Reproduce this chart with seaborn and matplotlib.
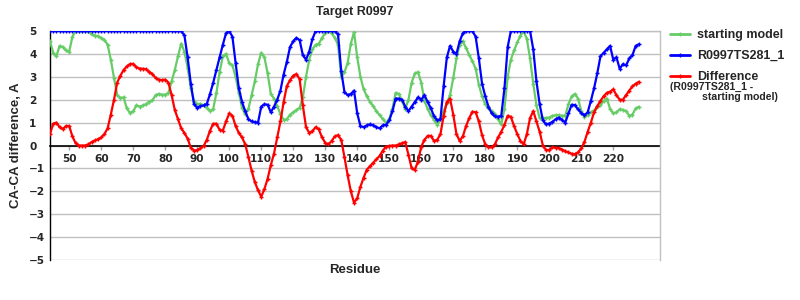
import matplotlib
matplotlib.use("Agg")
import matplotlib.pyplot as plt
import numpy as np
import pandas as pd
import seaborn as sns
from matplotlib.lines import Line2D

# ---------------- data ----------------
residues = list(range(44, 229))

starting_model = [
    4.55, 4.05, 3.9, 4.35, 4.3, 4.15, 4.1, 4.75, 5.0, 5.0,
    5.0, 5.0, 5.0, 4.85, 4.8, 4.77, 4.7, 4.62, 4.4, 3.75,
    2.95, 2.2, 2.08, 2.1, 1.62, 1.42, 1.5, 1.75, 1.7, 1.75,
    1.8, 1.92, 1.97, 2.2, 2.25, 2.22, 2.22, 2.3, 2.8, 3.3,
    3.9, 4.45, 4.1, 3.4, 2.5, 1.95, 1.8, 1.82, 1.75, 1.65,
    1.5, 1.6, 2.3, 3.2, 3.9, 4.0, 3.6, 3.5, 3.0, 2.3,
    1.65, 1.38, 1.6, 2.2, 2.8, 3.55, 4.05, 3.85, 3.15, 2.25,
    2.05, 1.72, 1.38, 1.12, 1.15, 1.35, 1.45, 1.55, 1.65, 2.1,
    3.0, 3.75, 4.2, 4.4, 4.45, 4.7, 4.92, 5.0, 4.9, 4.7,
    4.4, 3.0, 3.2, 3.6, 4.45, 4.95, 3.85, 3.0, 2.45, 2.15,
    1.9, 1.72, 1.5, 1.32, 1.15, 1.0, 1.15, 1.6, 2.3, 2.25,
    1.95, 1.6, 2.0, 2.75, 3.15, 3.2, 2.75, 1.95, 1.6, 1.32,
    1.12, 0.9, 1.15, 1.5, 1.85, 2.2, 2.95, 3.8, 4.4, 4.55,
    4.25, 3.95, 3.68, 3.35, 2.65, 2.15, 1.8, 1.65, 1.5, 1.38,
    1.15, 0.92, 1.6, 3.0, 3.75, 4.15, 4.5, 4.8, 5.0, 4.65,
    3.8, 2.7, 1.75, 1.2, 1.2, 1.2, 1.22, 1.3, 1.32, 1.32,
    1.3, 1.3, 1.8, 2.15, 2.25, 2.05, 1.5, 1.25, 1.32, 1.45,
    1.53, 1.67, 1.75, 1.95, 2.05, 1.6, 1.4, 1.45, 1.58, 1.55,
    1.5, 1.3, 1.35, 1.62, 1.69,
]

model_r0997ts281_1 = [
    5.0, 5.0, 5.0, 5.0, 5.0, 5.0, 5.0, 5.0, 5.0, 5.0,
    5.0, 5.0, 5.0, 5.0, 5.0, 5.0, 5.0, 5.0, 5.0, 5.0,
    5.0, 5.0, 5.0, 5.0, 5.0, 5.0, 5.0, 5.0, 5.0, 5.0,
    5.0, 5.0, 5.0, 5.0, 5.0, 5.0, 5.0, 5.0, 5.0, 5.0,
    5.0, 5.0, 4.81, 3.85, 2.7, 1.8, 1.65, 1.72, 1.75, 1.82,
    2.25, 2.75, 3.3, 3.85, 4.4, 4.9, 5.0, 4.75, 3.6, 2.5,
    1.9, 1.5, 1.15, 1.05, 1.02, 1.0, 1.7, 1.8, 1.78, 1.45,
    1.7, 2.0, 2.4, 3.1, 3.65, 4.3, 4.55, 4.7, 4.6, 3.95,
    3.75, 4.1, 4.65, 5.0, 5.0, 5.0, 5.0, 5.0, 5.0, 5.0,
    4.85, 3.25, 2.34, 2.2, 2.25, 2.4, 1.4, 0.85, 0.8, 0.88,
    0.92, 0.88, 0.8, 0.75, 0.88, 0.9, 1.1, 1.5, 2.05, 2.05,
    2.0, 1.7, 1.5, 1.7, 1.9, 2.1, 2.0, 2.2, 1.9, 1.62,
    1.28, 1.1, 1.15, 2.6, 3.85, 4.35, 4.1, 4.0, 4.55, 4.9,
    5.0, 5.0, 5.0, 4.75, 3.8, 2.7, 2.15, 1.7, 1.4, 1.27,
    1.26, 1.3, 2.5, 4.3, 5.0, 5.0, 5.0, 5.0, 5.0, 5.0,
    5.0, 4.2, 2.8, 1.8, 1.1, 0.92, 0.96, 1.03, 1.15, 1.22,
    1.12, 1.0, 1.4, 1.78, 1.76, 1.58, 1.42, 1.32, 1.45, 1.95,
    2.5, 3.15, 3.9, 4.05, 4.2, 4.35, 3.75, 3.85, 3.35, 3.55,
    3.5, 3.8, 3.95, 4.35, 4.42,
]

difference = [
    0.5, 0.95, 1.0, 0.8, 0.72, 0.85, 0.85, 0.4, 0.1, 0.0,
    0.0, 0.0, 0.05, 0.15, 0.22, 0.27, 0.35, 0.5, 0.75, 1.35,
    2.0, 2.75, 3.05, 3.3, 3.45, 3.56, 3.56, 3.42, 3.36, 3.35,
    3.33, 3.22, 3.12, 2.95, 2.88, 2.85, 2.88, 2.75, 2.2, 1.55,
    1.15, 0.75, 0.55, 0.3, -0.1, -0.22, -0.2, -0.12, -0.02, 0.25,
    0.65, 0.95, 0.95, 0.68, 0.65, 1.05, 1.4, 1.3, 0.85, 0.55,
    0.35, 0.05, -0.5, -1.1, -1.6, -1.95, -2.24, -1.9, -1.45, -0.85,
    -0.35, 0.35, 1.05, 1.9, 2.6, 2.85, 3.05, 3.12, 2.9, 1.75,
    0.8, 0.55, 0.63, 0.8, 0.7, 0.35, 0.12, 0.05, 0.2, 0.4,
    0.45, 0.25, -0.5, -1.3, -2.0, -2.5, -2.3, -1.8, -1.4, -1.05,
    -0.9, -0.75, -0.6, -0.45, -0.22, -0.05, -0.02, 0.0, 0.0, 0.05,
    0.1, 0.15, -0.4, -1.0, -1.05, -0.7, -0.05, 0.25, 0.42, 0.42,
    0.2, 0.25, 0.5, 1.3, 1.9, 2.05, 1.35, 0.5, 0.2, 0.4,
    0.85, 1.2, 1.48, 1.45, 1.05, 0.45, 0.05, -0.08, -0.08, 0.05,
    0.35, 0.6, 0.9, 1.3, 1.25, 0.85, 0.5, 0.2, 0.05, 0.5,
    1.2, 1.5, 1.05, 0.6, 0.0, -0.2, -0.2, -0.08, -0.1, -0.12,
    -0.18, -0.25, -0.3, -0.36, -0.38, -0.3, -0.13, 0.16, 0.6, 1.0,
    1.45, 1.72, 1.95, 2.15, 2.3, 2.35, 2.45, 2.2, 2.0, 2.0,
    2.2, 2.4, 2.58, 2.7, 2.78,
]

series_names = ["starting model", "R0997TS281_1", "Difference"]
series_colors = ["#66cc66", "#0000ff", "#ff0000"]
x_ticks = list(range(50, 230, 10))
y_ticks = list(range(-5, 6))

# ---------------- plotting ----------------
sns.set_theme(style="white")
plt.rcParams["font.family"] = ["DejaVu Sans"]
plt.rcParams["axes.unicode_minus"] = True

df = pd.DataFrame({
    "Residue": residues,
    series_names[0]: starting_model,
    series_names[1]: model_r0997ts281_1,
    series_names[2]: difference,
})

fig = plt.figure(figsize=(8, 3), dpi=100)
ax = fig.add_axes([0.0625, 0.1333, 0.7625, 0.7634])

for yv in y_ticks:
    ax.axhline(yv, color="#c0c0c0", lw=1, zorder=0)

for name, col in zip(series_names, series_colors):
    sns.lineplot(data=df, x="Residue", y=name, color=col, lw=1.6,
                 marker="+", markersize=3, markeredgewidth=1,
                 markeredgecolor=col, ax=ax, legend=False, zorder=3)

ax.set_xlim(44, 234.6)
ax.set_ylim(-5, 5)
ax.set_xlabel("")
ax.set_ylabel("")

for s in ["top", "right"]:
    ax.spines[s].set_color("#c0c0c0")
    ax.spines[s].set_linewidth(1)
ax.spines["left"].set_color("black")
ax.spines["left"].set_linewidth(1)
ax.spines["bottom"].set_position(("data", 0))
ax.spines["bottom"].set_color("black")
ax.spines["bottom"].set_linewidth(1.2)
ax.spines["bottom"].set_zorder(2)

ax.set_xticks(x_ticks)
ax.set_xticklabels([str(t) for t in x_ticks], fontweight="bold", fontsize=7.6)
ax.set_yticks(y_ticks)
ax.set_yticklabels([("\u2212" + str(-t)) if t < 0 else str(t) for t in y_ticks],
                   fontweight="bold", fontsize=7.6, ha="left")
ax.tick_params(axis="x", bottom=True, direction="out", length=3, width=1,
               color="#a0a0a0", pad=3)
ax.tick_params(axis="y", left=False, length=0, pad=15)

fig.text(355 / 800, 1 - 12 / 300, "Target R0997", ha="center", va="center",
         fontweight="bold", fontsize=9, family=["Liberation Sans"])
fig.text(355 / 800, 1 - 270 / 300, "Residue", ha="center", va="center",
         fontweight="bold", fontsize=9.5, family=["Liberation Sans"])
fig.text(16 / 800, 0.515, "CA-CA difference, A", rotation=90, ha="center",
         va="center", fontweight="bold", fontsize=9.5, family=["Liberation Sans"])

handles = [Line2D([0], [0], color=c, lw=2, marker="+", ms=3) for c in series_colors]
leg = fig.legend(handles, series_names, loc="upper left",
                 bbox_to_anchor=(670 / 800, 1 - 29 / 300), frameon=False,
                 prop={"weight": "bold", "size": 9, "family": "Liberation Sans"},
                 handlelength=1.6, handletextpad=0.56, labelspacing=0.72,
                 borderaxespad=0, borderpad=0)
fig.text(670 / 800, 1 - 87 / 300, "(R0997TS281_1 -", ha="left", va="center",
         fontweight="bold", fontsize=7.6, family=["Liberation Sans"])
fig.text(702 / 800, 1 - 97 / 300, "starting model)", ha="left", va="center",
         fontweight="bold", fontsize=7.6, family=["Liberation Sans"])

fig.savefig("out.png", dpi=100)
